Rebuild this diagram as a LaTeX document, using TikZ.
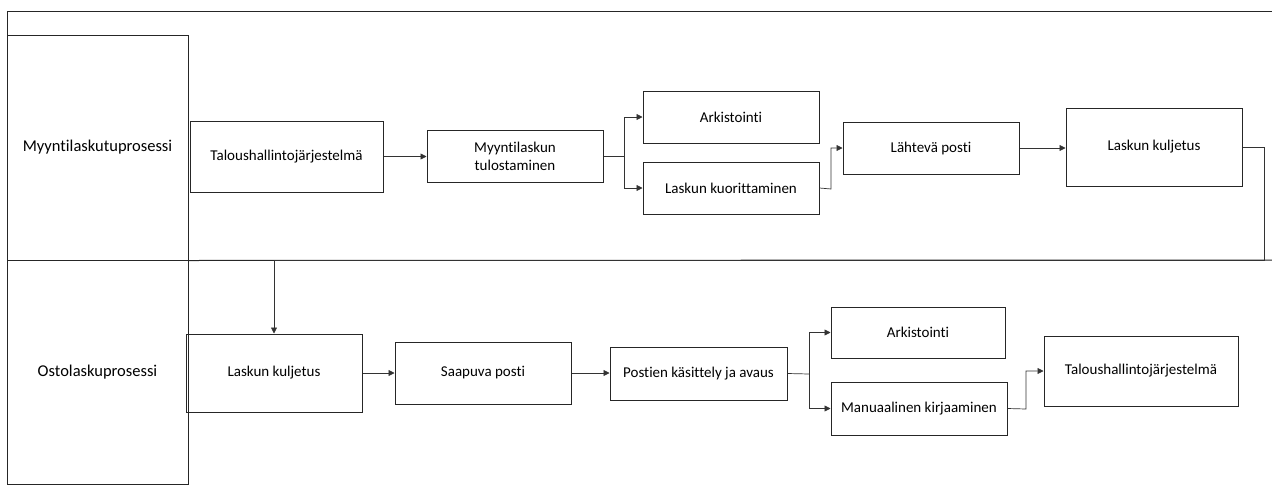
\documentclass[tikz,border=0pt]{standalone}
\usepackage{fontspec}
\setmainfont{Carlito}[RawFeature={-liga}]
\usetikzlibrary{arrows.meta}
\begin{document}
\begin{tikzpicture}[x=1pt,y=-1pt,
  box/.style={draw=black!85,line width=1pt,inner sep=0pt,align=center,
    font=\fontsize{15}{18}\selectfont},
  lanebox/.style={draw=black!85,line width=1pt,inner sep=0pt,align=center,
    font=\fontsize{16.5}{20}\selectfont},
  conn/.style={draw=black!80,line width=0.7pt,-{Triangle[length=6pt,width=6pt]}},
  plain/.style={draw=black!80,line width=0.7pt}]
\useasboundingbox (0,0) rectangle (1272,485);
% pool frame
\draw[black!85,line width=1pt] (7,484) -- (7,11) -- (1272,11);
% lanes
\node[lanebox,minimum width=181pt,minimum height=225pt] (mlane) at (97.5,147.5) {Myyntilaskutuprosessi};
\node[lanebox,minimum width=181pt,minimum height=224pt] (olane) at (97.5,372) {Ostolaskuprosessi};
\draw[black!85,line width=1pt] (mlane.south east) -- (1272,260);
% top lane
\node[box,minimum width=193pt,minimum height=71pt] (t1) at (286.5,156.5) {Taloushallintojärjestelmä};
\node[box,minimum width=176pt,minimum height=52pt] (t2) at (515,156) {Myyntilaskun\\tulostaminen};
\node[box,minimum width=176pt,minimum height=52pt] (t3) at (731,117) {Arkistointi};
\node[box,minimum width=176pt,minimum height=52pt] (t4) at (731,188) {Laskun kuorittaminen};
\node[box,minimum width=176pt,minimum height=52pt] (t5) at (931,148) {Lähtevä posti};
\node[box,minimum width=176pt,minimum height=78pt] (t6) at (1154,147) {Laskun kuljetus};
% bottom lane
\node[box,minimum width=176pt,minimum height=78pt] (b1) at (274,373) {Laskun kuljetus};
\node[box,minimum width=176pt,minimum height=62pt] (b2) at (483,373) {Saapuva posti};
\node[box,minimum width=177pt,minimum height=53pt] (b3) at (698.5,373.5) {Postien käsittely ja avaus};
\node[box,minimum width=174pt,minimum height=51pt] (b4) at (918,332.5) {Arkistointi};
\node[box,minimum width=176pt,minimum height=53pt] (b5) at (919,408.5) {Manuaalinen kirjaaminen};
\node[box,minimum width=194pt,minimum height=70pt] (b6) at (1141,371) {Taloushallintojärjestelmä};
% connectors top
\draw[conn] (t1.east) -- (t1.east -| t2.west);
\coordinate (s1) at (624,156);
\draw[plain] (t2.east) -- (s1);
\draw[conn] (s1) |- (t3.west);
\draw[conn] (s1) |- (t4.west);
\coordinate (s2) at (831,189);
\draw[conn] (t4.east) -- (s2) |- (t5.west);
\draw[conn] (t5.east) -- (t5.east -| t6.west);
\coordinate (r1) at (1264,260);
\draw[conn] (t6.east) -| (r1) -| (b1.north);
% connectors bottom
\draw[conn] (b1.east) -- (b1.east -| b2.west);
\draw[conn] (b2.east) -- (b2.east -| b3.west);
\coordinate (s3) at (809,374);
\draw[plain] (b3.east) -- (s3);
\draw[conn] (s3) |- (b4.west);
\draw[conn] (s3) |- (b5.west);
\coordinate (s4) at (1026,409);
\draw[conn] (b5.east) -- (s4) |- (b6.west);
\end{tikzpicture}
\end{document}
